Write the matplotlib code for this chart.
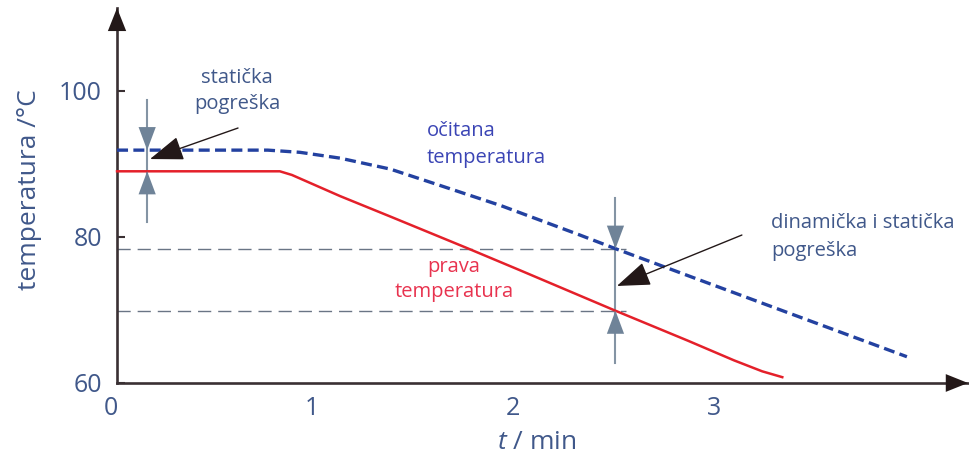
import numpy as np
from matplotlib import pyplot as plt

# measured (true) temperature and the thermometer reading, t in min, T in degC
red_t = [0.03, 0.84, 0.90, 1.14, 1.39, 1.77, 2.03, 2.33, 2.51, 2.87, 3.10, 3.24, 3.34]
red_T = [89.0, 89.0, 88.5, 85.6, 82.8, 78.5, 75.5, 72.0, 69.9, 65.8, 63.1, 61.6, 60.8]
blue_t = [0.03, 0.78, 0.94, 1.14, 1.39, 1.60, 1.94, 2.33, 2.51, 2.93, 3.43, 3.96]
blue_T = [91.9, 91.9, 91.6, 90.8, 89.3, 87.4, 84.3, 80.3, 78.4, 74.1, 69.0, 63.6]

x_ticks = [0, 1, 2, 3]
y_ticks = [60, 80, 100]

t_static = 0.18   # where the static error is marked
t_dyn = 2.51      # where the dynamic + static error is marked
axis_x = 0.03     # y axis sits slightly right of t=0

plt.rcParams['font.family'] = ['Open Sans', 'DejaVu Sans']
plt.rcParams['mathtext.fontset'] = 'custom'
plt.rcParams['mathtext.it'] = 'Open Sans:italic'

TEXT = '#40588a'
AXIS = '#3a3033'
GRAY = '#8494a4'
GRAY_HEAD = '#6f8398'

fig = plt.figure(figsize=(9.7, 4.61), dpi=100)
ax = fig.add_axes([111/970, 78/461, 857/970, 375/461])
ax.set_xlim(0, 4.264)
ax.set_ylim(60, 60 + 375/7.3)

for s in ['top', 'right']:
    ax.spines[s].set_visible(False)
ax.spines['left'].set_position(('data', axis_x))
ax.spines['left'].set_color(AXIS)
ax.spines['left'].set_linewidth(1.9)
ax.spines['bottom'].set_color(AXIS)
ax.spines['bottom'].set_linewidth(1.9)
ax.spines['bottom'].set_bounds(axis_x, 4.264)

# axis arrowheads
ylim = ax.get_ylim()
xlim = ax.get_xlim()
ax.annotate('', xy=(axis_x, ylim[1]), xytext=(axis_x, ylim[1] - 5), annotation_clip=False,
            arrowprops=dict(arrowstyle='-|>,head_length=0.83,head_width=0.33', mutation_scale=20,
                            color='#231818', lw=0, shrinkA=0, shrinkB=0))
ax.annotate('', xy=(xlim[1], 60), xytext=(xlim[1] - 0.3, 60), annotation_clip=False,
            arrowprops=dict(arrowstyle='-|>,head_length=0.8,head_width=0.32', mutation_scale=20,
                            color='#231818', lw=0, shrinkA=0, shrinkB=0))

ax.set_xticks(x_ticks)
ax.set_yticks(y_ticks)
ax.tick_params(axis='y', direction='in', length=6, width=1.5, color=AXIS, pad=11,
               labelsize=18, labelcolor=TEXT)
ax.tick_params(axis='x', length=0, pad=9, labelsize=18, labelcolor=TEXT)

ax.set_ylabel('temperatura /°C', fontsize=19, color=TEXT)
ax.yaxis.set_label_coords(-0.080, 0.517)
ax.set_xlabel('$t$ / min', fontsize=19, color=TEXT)
ax.xaxis.set_label_coords(0.497, -0.125)

# curves
ax.plot(red_t, red_T, color='#e4202a', lw=1.8, zorder=4)
ax.plot(blue_t, blue_T, color='#2341a0', lw=2.4, dashes=(3.3, 1.6), zorder=4)

# error levels at t_dyn
hi = np.interp(t_dyn, blue_t, blue_T)
lo = np.interp(t_dyn, red_t, red_T)
for lev in [hi, lo]:
    ax.plot([axis_x, 2.56], [lev, lev], color='#6a7585', lw=1.0, dashes=(9.5, 5), zorder=2)

# gray error markers
def error_marker(t, top, bottom):
    up = np.interp(t, blue_t, blue_T)
    dn = np.interp(t, red_t, red_T)
    ax.plot([t, t], [bottom, top], color=GRAY, lw=1.5, zorder=3)
    head = dict(arrowstyle='-|>,head_length=0.83,head_width=0.31', mutation_scale=20,
                color=GRAY_HEAD, lw=0, shrinkA=0, shrinkB=0)
    ax.annotate('', xy=(t, up), xytext=(t, top), arrowprops=head, zorder=5)
    ax.annotate('', xy=(t, dn), xytext=(t, bottom), arrowprops=head, zorder=5)

error_marker(t_static, 98.8, 82.1)
error_marker(t_dyn, 85.3, 62.7)

# black pointer arrows
pointer = dict(arrowstyle='-|>,head_length=1.05,head_width=0.38', mutation_scale=20,
               color='#231818', lw=1.0, shrinkA=0, shrinkB=0)
ax.annotate('', xy=(0.194, 90.68), xytext=(0.632, 94.93), arrowprops=pointer, zorder=6)
ax.annotate('', xy=(2.517, 73.29), xytext=(3.139, 80.27), arrowprops=pointer, zorder=6)

# labels
ax.text(0.627, 100.0, 'statička\npogreška', fontsize=14.5, color=TEXT,
        ha='center', va='center', linespacing=1.45)
ax.text(1.572, 92.67, 'očitana\ntemperatura', fontsize=14.5, color='#3b45b5',
        ha='left', va='center', linespacing=1.5)
ax.text(1.706, 74.18, 'prava\ntemperatura', fontsize=14.5, color='#e8334f',
        ha='center', va='center', linespacing=1.3)
ax.text(3.284, 80.0, 'dinamička i statička\npogreška', fontsize=14.5, color=TEXT,
        ha='left', va='center', linespacing=1.5)

fig.savefig('out.png', dpi=100)
